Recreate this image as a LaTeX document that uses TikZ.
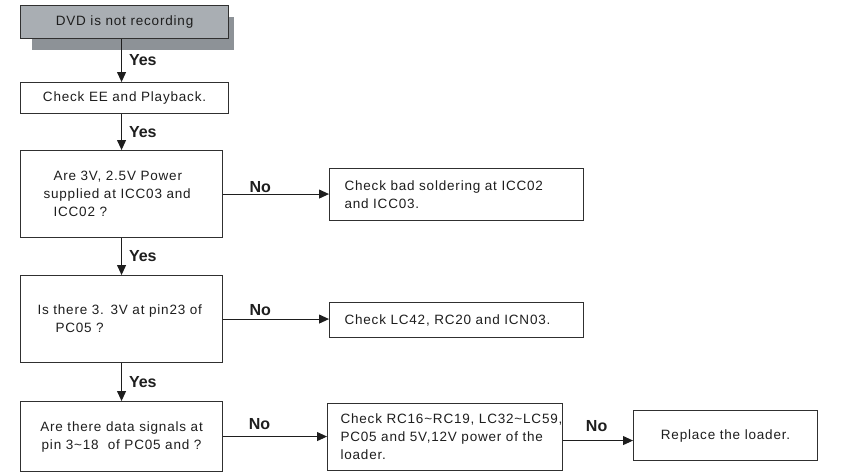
\documentclass[tikz,border=0pt]{standalone}
\usepackage{fontspec}
\setmainfont{Liberation Sans}[LetterSpace=6]
\newfontfamily\lblfont{Liberation Sans}
\usetikzlibrary{arrows.meta}
\definecolor{boxc}{HTML}{303030}
\definecolor{txt}{HTML}{1E1E1E}
\definecolor{topfill}{HTML}{A9AEB3}
\definecolor{shadowc}{HTML}{8D9297}
\begin{document}
\begin{tikzpicture}[x=1pt,y=-1pt,
  box/.style={draw=boxc, line width=1.1pt, fill=white, inner ysep=0pt, text=txt,
    font=\fontsize{13.5}{18}\selectfont, anchor=north west},
  lbox/.style={box, align=left},
  cbox/.style={box, align=center},
  arr/.style={draw=txt, line width=1pt, -{Triangle[length=10pt,width=9pt]}},
  yes/.style={font=\lblfont\bfseries\fontsize{16}{18}\selectfont, text=txt, anchor=west, inner sep=0pt, xshift=7pt},
  no/.style={font=\lblfont\bfseries\fontsize{16}{18}\selectfont, text=txt, inner sep=0pt}
]
\useasboundingbox (0,0) rectangle (863,472);
\fill[shadowc] (32,17) rectangle (234,50);
\node[cbox, fill=topfill, minimum width=208pt, minimum height=33pt] (b1) at (20,5) {DVD is not recording};
\node[cbox, minimum width=208pt, minimum height=31pt] (b2) at (20,82) {Check EE and Playback.};
\node[lbox, inner xsep=23pt, text width=156pt, minimum width=202pt, minimum height=87pt] (b3) at (20,150)
  {\hspace*{10pt}Are 3V, 2.5V Power\\\mbox{supplied at ICC03 and}\\\hspace*{10pt}ICC02 ?};
\node[lbox, inner xsep=15pt, text width=224pt, minimum width=254pt, minimum height=52pt] (b4) at (329,168)
  {Check bad soldering at ICC02\\and ICC03.};
\node[lbox, inner xsep=17pt, text width=168pt, minimum width=202pt, minimum height=87pt] (b5) at (20,275)
  {\mbox{Is there 3. 3V at pin23 of}\\\hspace*{18pt}PC05 ?};
\node[lbox, inner xsep=15pt, text width=224pt, minimum width=254pt, minimum height=35pt] (b6) at (329,302)
  {Check LC42, RC20 and ICN03.};
\node[cbox, minimum width=202pt, minimum height=70pt] (b7) at (20,401)
  {Are there data signals at\\pin 3\textasciitilde 18 \ of PC05 and ?};
\node[lbox, inner xsep=13pt, text width=209pt, minimum width=235pt, minimum height=67pt] (b8) at (327,403)
  {\mbox{Check RC16\textasciitilde RC19, LC32\textasciitilde LC59,}\\\mbox{PC05 and 5V,12V power of the}\\loader.};
\node[cbox, minimum width=184pt, minimum height=50pt] (b9) at (633,410) {Replace the loader.};

\draw[arr] (b1.south -| b3.north) -- node[yes] {Yes} (b2.north -| b3.north);
\draw[arr] (b2.south -| b3.north) -- node[yes] {Yes} (b3.north);
\draw[arr] (b3.south) -- node[yes] {Yes} (b5.north);
\draw[arr] (b5.south) -- node[yes] {Yes} (b7.north);
\draw[arr] (b3.east) -- node[no, pos=0.35, above=1pt] {No} (b3.east -| b4.west);
\draw[arr] (b5.east) -- node[no, pos=0.35, above=3pt] {No} (b5.east -| b6.west);
\draw[arr] (b7.east) -- node[no, pos=0.35, above=6pt] {No} (b7.east -| b8.west);
\draw[arr] ([yshift=-3.5pt]b8.east) coordinate (c8) -- node[no, pos=0.48, above=8pt] {No} (c8 -| b9.west);
\end{tikzpicture}
\end{document}
